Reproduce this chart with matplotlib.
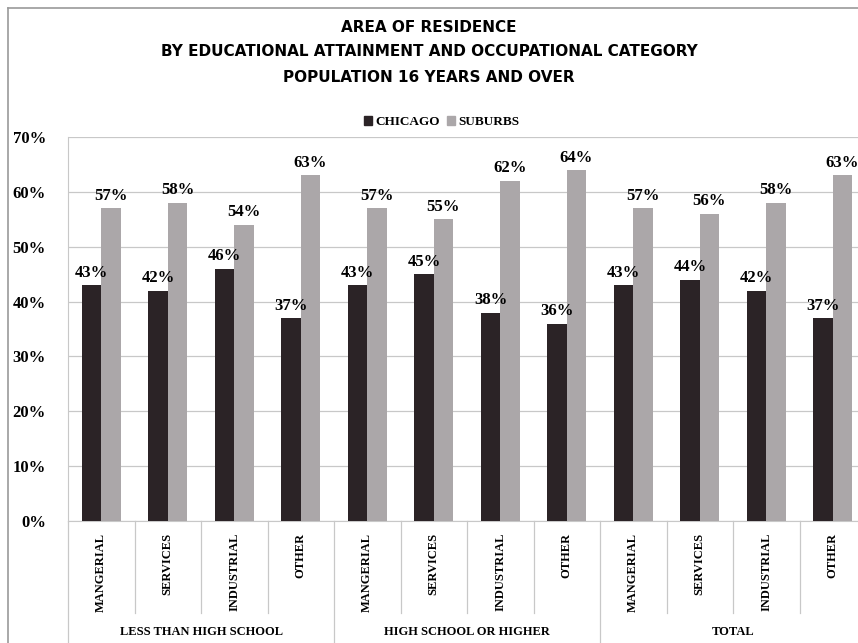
import numpy as np
import matplotlib.pyplot as plt
from matplotlib.lines import Line2D
import matplotlib.transforms as mtransforms

groups = ["LESS THAN HIGH SCHOOL", "HIGH SCHOOL OR HIGHER", "TOTAL"]
occupations = ["MANGERIAL", "SERVICES", "INDUSTRIAL", "OTHER"]
chicago = [43, 42, 46, 37, 43, 45, 38, 36, 43, 44, 42, 37]
suburbs = [57, 58, 54, 63, 57, 55, 62, 64, 57, 56, 58, 63]

serif = ["Liberation Serif", "DejaVu Serif"]
dark = "#2b2326"
light = "#aba7a9"

fig = plt.figure(figsize=(8.58, 6.43), dpi=100)
ax = fig.add_axes([68/858, 122/643, 798/858, 384/643])

n = len(chicago)
x = np.arange(n)
w = 0.29
ax.bar(x - w/2, np.array(chicago)/100, w, color=dark, zorder=3)
ax.bar(x + w/2, np.array(suburbs)/100, w, color=light, zorder=3)

for i in range(n):
    ax.text(x[i] - w/2, chicago[i]/100 + 0.008, f"{chicago[i]}%", ha="center", va="bottom",
            fontsize=12, fontweight="bold", family=serif, zorder=4)
    ax.text(x[i] + w/2, suburbs[i]/100 + 0.008, f"{suburbs[i]}%", ha="center", va="bottom",
            fontsize=12, fontweight="bold", family=serif, zorder=4)

ax.set_xlim(-0.5, n - 0.5)
ax.set_ylim(0, 0.7)
ax.set_yticks(np.arange(0, 0.71, 0.1))
ax.set_yticklabels([f"{int(round(v*100))}%" for v in np.arange(0, 0.71, 0.1)],
                   fontsize=12, fontweight="bold", family=serif)
ax.tick_params(axis="y", length=0, pad=16)
ax.set_xticks([])
ax.grid(axis="y", color="#c8c8c8", linewidth=0.9, zorder=0)
for s in ["top", "right"]:
    ax.spines[s].set_visible(False)
ax.spines["left"].set_color("#c8c8c8")
ax.spines["bottom"].set_color("#c8c8c8")

# category axis labels
trans = mtransforms.blended_transform_factory(ax.transData, ax.transAxes)
for i in range(n):
    ax.text(x[i], -0.03, occupations[i % 4], rotation=90, ha="center", va="top",
            fontsize=9, fontweight="bold", family=serif, transform=trans)
for i in range(n + 1):
    bottom = -0.33 if i % 4 == 0 else -0.24
    ax.plot([i - 0.5, i - 0.5], [0, bottom], color="#c8c8c8", linewidth=0.9,
            transform=trans, clip_on=False)
for g, name in enumerate(groups):
    ax.text(g*4 + 1.5, -0.29, name, ha="center", va="center",
            fontsize=9, fontweight="bold", family=serif, transform=trans)

# title and legend
title_font = ["Liberation Sans Narrow", "DejaVu Sans"]
fig.text(0.5, 1 - 27/643, "AREA OF RESIDENCE", ha="center", va="center",
         fontsize=11, fontweight="bold", family=title_font)
fig.text(0.5, 1 - 52/643, "BY EDUCATIONAL ATTAINMENT AND OCCUPATIONAL CATEGORY", ha="center", va="center",
         fontsize=11, fontweight="bold", family=title_font)
fig.text(0.5, 1 - 77/643, "POPULATION 16 YEARS AND OVER", ha="center", va="center",
         fontsize=11, fontweight="bold", family=title_font)

handles = [plt.Rectangle((0, 0), 1, 1, color=dark), plt.Rectangle((0, 0), 1, 1, color=light)]
fig.legend(handles, ["CHICAGO", "SUBURBS"], loc="center", bbox_to_anchor=(0.515, 1 - 122/643),
           ncol=2, frameon=False, handlelength=0.6, handleheight=0.6, handletextpad=0.3,
           columnspacing=0.5, prop={"family": serif, "weight": "bold", "size": 9.5})

# outer chart border
fig.add_artist(Line2D([8/858, 8/858], [0, 1 - 8/643], color="#9a9a9a", linewidth=1.2))
fig.add_artist(Line2D([8/858, 1], [1 - 8/643, 1 - 8/643], color="#9a9a9a", linewidth=1.2))

fig.savefig("out.png", dpi=100)
